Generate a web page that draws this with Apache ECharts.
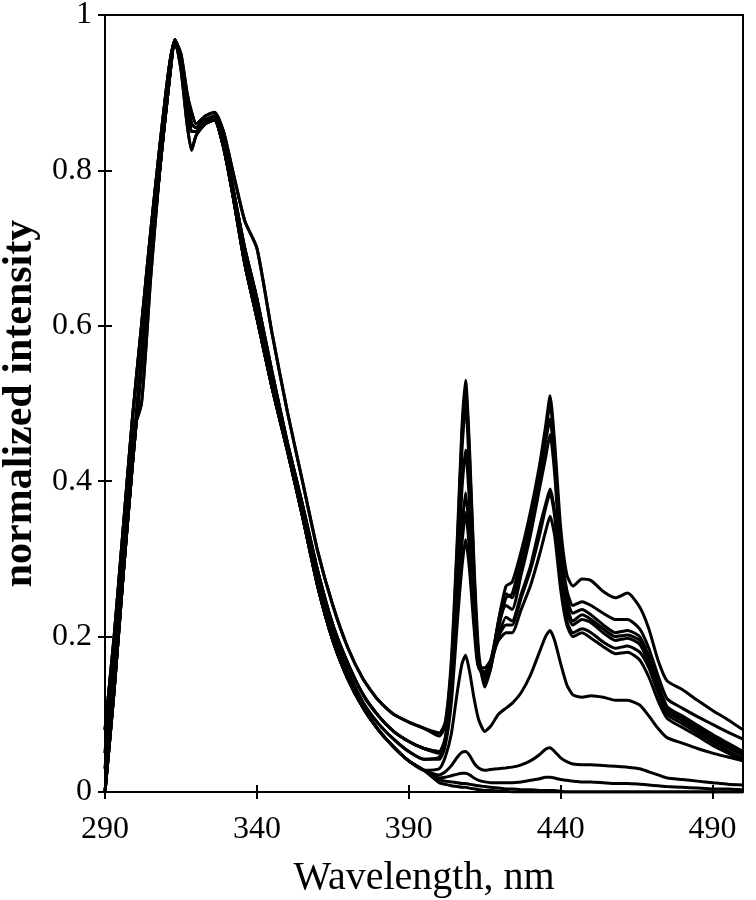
<!DOCTYPE html>
<html>
<head>
<meta charset="utf-8">
<script src="https://cdn.jsdelivr.net/npm/echarts@6/dist/echarts.min.js"></script>
<style>
  html, body { margin: 0; padding: 0; background: #fff; }
  #chart { width: 756px; height: 900px; }
</style>
</head>
<body>
<div id="chart"></div>
<script>
// wavelength grid, nm (denser around the peaks)
var wlLeft = [290, 293, 296, 299, 302, 305, 308, 311, 313, 315, 317, 318.5, 320, 323, 326, 329, 332, 336, 340, 345, 350, 355, 360, 365, 370, 375, 380, 385, 390, 395];
var wlRight = [400, 402, 404, 406, 407.5, 408.7, 410, 411.5, 413, 415, 417, 419.5, 422, 424, 427, 430, 433, 435, 436.5, 438, 440, 442, 444, 447, 450, 454, 458, 462, 466, 469, 472, 475, 480, 485, 490, 495, 500];

// 290-395 nm part, a few shapes of the big band
var leftOuter  = [0.03, 0.16, 0.30, 0.43, 0.56, 0.69, 0.80, 0.92, 0.968, 0.95, 0.90, 0.875, 0.86, 0.87, 0.875, 0.85, 0.80, 0.735, 0.70, 0.59, 0.49, 0.40, 0.31, 0.24, 0.185, 0.145, 0.118, 0.10, 0.09, 0.082];
var leftMiddle = [0.08, 0.20, 0.34, 0.48, 0.60, 0.72, 0.83, 0.93, 0.968, 0.945, 0.89, 0.86, 0.855, 0.865, 0.87, 0.84, 0.78, 0.70, 0.635, 0.54, 0.45, 0.37, 0.285, 0.215, 0.165, 0.125, 0.098, 0.078, 0.065, 0.056];
var leftInner  = [0.0, 0.13, 0.28, 0.42, 0.55, 0.68, 0.80, 0.91, 0.965, 0.94, 0.88, 0.85, 0.85, 0.86, 0.865, 0.83, 0.77, 0.68, 0.61, 0.52, 0.44, 0.355, 0.265, 0.195, 0.145, 0.108, 0.08, 0.058, 0.04, 0.028];
var leftDip    = [0.05, 0.19, 0.33, 0.46, 0.50, 0.66, 0.80, 0.92, 0.968, 0.93, 0.86, 0.826, 0.845, 0.86, 0.87, 0.835, 0.775, 0.69, 0.62, 0.53, 0.445, 0.36, 0.275, 0.205, 0.155, 0.115, 0.088, 0.068, 0.052, 0.042];

// 400-500 nm part, one per curve
var right1  = [0.076, 0.09, 0.17, 0.33, 0.47, 0.53, 0.44, 0.29, 0.18, 0.135, 0.16, 0.22, 0.265, 0.27, 0.31, 0.36, 0.42, 0.47, 0.51, 0.45, 0.34, 0.28, 0.265, 0.274, 0.272, 0.258, 0.25, 0.256, 0.238, 0.21, 0.17, 0.143, 0.132, 0.118, 0.105, 0.093, 0.08];
var right2  = [0.072, 0.085, 0.16, 0.32, 0.46, 0.52, 0.43, 0.28, 0.17, 0.14, 0.16, 0.21, 0.25, 0.255, 0.30, 0.35, 0.41, 0.46, 0.50, 0.44, 0.32, 0.26, 0.24, 0.245, 0.24, 0.23, 0.222, 0.222, 0.21, 0.185, 0.15, 0.12, 0.108, 0.097, 0.087, 0.077, 0.068];
var right3  = [0.052, 0.068, 0.15, 0.30, 0.44, 0.50, 0.41, 0.27, 0.17, 0.145, 0.165, 0.22, 0.255, 0.25, 0.29, 0.34, 0.40, 0.45, 0.48, 0.42, 0.31, 0.25, 0.23, 0.235, 0.228, 0.215, 0.205, 0.208, 0.20, 0.175, 0.14, 0.11, 0.098, 0.086, 0.074, 0.063, 0.052];
var right4  = [0.052, 0.07, 0.14, 0.28, 0.39, 0.44, 0.37, 0.25, 0.165, 0.15, 0.17, 0.215, 0.24, 0.235, 0.28, 0.33, 0.39, 0.43, 0.46, 0.41, 0.30, 0.24, 0.22, 0.228, 0.222, 0.21, 0.20, 0.202, 0.195, 0.17, 0.135, 0.108, 0.095, 0.083, 0.071, 0.06, 0.05];
var right5  = [0.045, 0.065, 0.13, 0.25, 0.34, 0.385, 0.33, 0.23, 0.16, 0.15, 0.165, 0.20, 0.225, 0.22, 0.255, 0.29, 0.34, 0.37, 0.39, 0.36, 0.28, 0.23, 0.215, 0.222, 0.218, 0.205, 0.195, 0.198, 0.19, 0.165, 0.13, 0.104, 0.092, 0.08, 0.068, 0.057, 0.047];
var right6  = [0.05, 0.066, 0.125, 0.24, 0.32, 0.36, 0.31, 0.22, 0.16, 0.155, 0.17, 0.20, 0.215, 0.215, 0.25, 0.285, 0.33, 0.365, 0.385, 0.355, 0.27, 0.22, 0.205, 0.21, 0.205, 0.193, 0.185, 0.188, 0.18, 0.16, 0.128, 0.10, 0.088, 0.076, 0.064, 0.053, 0.043];
var right7  = [0.042, 0.06, 0.115, 0.22, 0.29, 0.325, 0.285, 0.21, 0.16, 0.16, 0.17, 0.195, 0.205, 0.205, 0.235, 0.265, 0.305, 0.335, 0.355, 0.33, 0.26, 0.215, 0.20, 0.205, 0.198, 0.187, 0.178, 0.18, 0.17, 0.148, 0.118, 0.095, 0.083, 0.072, 0.06, 0.05, 0.04];
var right8  = [0.03, 0.045, 0.075, 0.13, 0.165, 0.176, 0.155, 0.12, 0.093, 0.078, 0.085, 0.10, 0.108, 0.114, 0.128, 0.15, 0.18, 0.20, 0.208, 0.195, 0.165, 0.138, 0.125, 0.122, 0.124, 0.122, 0.118, 0.118, 0.112, 0.098, 0.082, 0.07, 0.063, 0.056, 0.05, 0.045, 0.04];
var right9  = [0.022, 0.026, 0.034, 0.045, 0.051, 0.052, 0.047, 0.037, 0.031, 0.028, 0.029, 0.03, 0.031, 0.032, 0.035, 0.04, 0.048, 0.055, 0.057, 0.052, 0.044, 0.039, 0.036, 0.035, 0.035, 0.034, 0.033, 0.032, 0.03, 0.026, 0.022, 0.018, 0.016, 0.014, 0.012, 0.01, 0.009];
var right10 = [0.018, 0.019, 0.021, 0.023, 0.024, 0.024, 0.022, 0.018, 0.015, 0.013, 0.012, 0.012, 0.012, 0.012, 0.013, 0.015, 0.017, 0.019, 0.019, 0.018, 0.016, 0.015, 0.014, 0.013, 0.013, 0.012, 0.011, 0.011, 0.01, 0.009, 0.008, 0.007, 0.006, 0.005, 0.004, 0.004, 0.003];
var right11 = [0.016, 0.014, 0.013, 0.012, 0.011, 0.011, 0.01, 0.009, 0.008, 0.007, 0.006, 0.005, 0.004, 0.004, 0.003, 0.003, 0.002, 0.002, 0.002, 0.002, 0.001, 0, 0, 0, 0, 0, 0, 0, 0, 0, 0, 0, 0, 0, 0, 0, 0];
var right12 = [0.012, 0.01, 0.008, 0.007, 0.006, 0.006, 0.005, 0.004, 0.003, 0.002, 0.002, 0.001, 0.001, 0, 0, 0, 0, 0, 0, 0, 0, 0, 0, 0, 0, 0, 0, 0, 0, 0, 0, 0, 0, 0, 0, 0, 0];

var xTicks = [290, 340, 390, 440, 490];

var curves = [
  [leftOuter, right1], [leftOuter, right2], [leftMiddle, right3], [leftMiddle, right4],
  [leftDip, right5], [leftMiddle, right6], [leftDip, right7], [leftInner, right8],
  [leftInner, right9], [leftInner, right10], [leftInner, right11], [leftInner, right12]
];

var wl = wlLeft.concat(wlRight);
var series = curves.map(function (c) {
  var ys = c[0].concat(c[1]);
  return {
    type: 'line',
    data: wl.map(function (x, i) { return [x, ys[i]]; }),
    showSymbol: false,
    smooth: 0.2,
    lineStyle: { color: '#000', width: 3 },
    silent: true
  };
});

var font = 'Liberation Serif, Times New Roman, serif';
var chart = echarts.init(document.getElementById('chart'), null, { renderer: 'canvas' });
chart.setOption({
  animation: false,
  backgroundColor: '#fff',
  grid: { left: 105, right: 13, top: 15, bottom: 108, show: true, borderColor: '#000', borderWidth: 2,
    containLabel: false, outerBoundsMode: 'none' },
  xAxis: [{
    type: 'value', min: 290, max: 500, interval: 50,
    name: 'Wavelength, nm', nameLocation: 'middle', nameGap: 66,
    nameTextStyle: { fontFamily: font, fontSize: 40, color: '#000' },
    axisLine: { lineStyle: { color: '#000', width: 2 } },
    axisTick: { length: 7, lineStyle: { color: '#000', width: 2 } },
    axisLabel: { fontFamily: font, fontSize: 32, color: '#000', margin: 22, showMaxLabel: false,
      formatter: function (v) { return xTicks.indexOf(v) >= 0 ? String(v) : ''; } },
    splitLine: { show: false }
  }, {
    type: 'value', min: 290, max: 500, interval: 50, position: 'bottom',
    axisLine: { show: false },
    axisTick: { inside: true, length: 7, lineStyle: { color: '#000', width: 2 } },
    axisLabel: { show: false }, splitLine: { show: false }
  }],
  yAxis: [{
    type: 'value', min: 0, max: 1, interval: 0.2,
    name: 'normalized intensity', nameLocation: 'middle', nameGap: 62,
    nameTextStyle: { fontFamily: font, fontSize: 42, fontWeight: 'bold', color: '#000' },
    axisLine: { lineStyle: { color: '#000', width: 2 } },
    axisTick: { length: 7, lineStyle: { color: '#000', width: 2 } },
    axisLabel: { fontFamily: font, fontSize: 32, color: '#000', margin: 13 },
    splitLine: { show: false }
  }, {
    type: 'value', min: 0, max: 1, interval: 0.2, position: 'left',
    axisLine: { show: false },
    axisTick: { inside: true, length: 7, lineStyle: { color: '#000', width: 2 } },
    axisLabel: { show: false }, splitLine: { show: false }
  }],
  series: series
});
</script>
</body>
</html>
